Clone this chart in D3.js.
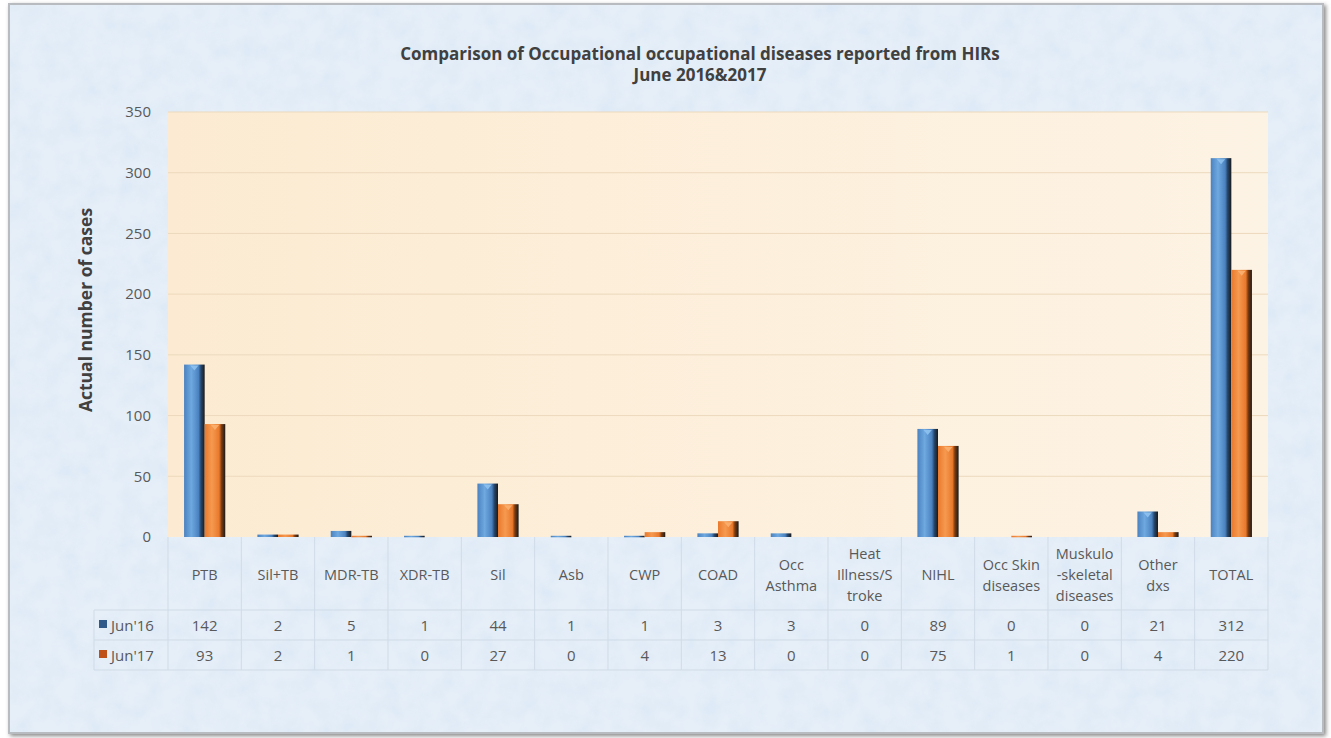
<!DOCTYPE html>
<html><head><meta charset="utf-8">
<script src="https://cdn.jsdelivr.net/npm/d3@7"></script>
<style>html,body{margin:0;padding:0;background:#fff;}svg{display:block;}</style>
</head><body>
<svg id="c" width="1331" height="738"></svg>
<script>
const categories = ["PTB","Sil+TB","MDR-TB","XDR-TB","Sil","Asb","CWP","COAD","Occ Asthma","Heat Illness/S troke","NIHL","Occ Skin diseases","Muskulo -skeletal diseases","Other dxs","TOTAL"];
const headerLines = [["PTB"],["Sil+TB"],["MDR-TB"],["XDR-TB"],["Sil"],["Asb"],["CWP"],["COAD"],["Occ","Asthma"],["Heat","Illness/S","troke"],["NIHL"],["Occ Skin","diseases"],["Muskulo","-skeletal","diseases"],["Other","dxs"],["TOTAL"]];
const seriesNames = ["Jun'16","Jun'17"];
const jun16 = [142,2,5,1,44,1,1,3,3,0,89,0,0,21,312];
const jun17 = [93,2,1,0,27,0,4,13,0,0,75,1,0,4,220];
const yTicks = [0,50,100,150,200,250,300,350];
const titleLines = ["Comparison of Occupational occupational diseases reported from HIRs","June 2016&2017"];
const yTitle = "Actual number of cases";

const svg = d3.select("#c");
const font = "'Open Sans', 'Noto Sans', sans-serif";
const defs = svg.append("defs");

// background texture
const filt = defs.append("filter").attr("id","tex").attr("x",0).attr("y",0).attr("width","100%").attr("height","100%");
filt.append("feTurbulence").attr("type","fractalNoise").attr("baseFrequency","0.05").attr("numOctaves",4).attr("seed",7).attr("result","n");
filt.append("feColorMatrix").attr("in","n").attr("type","matrix")
  .attr("values","0 0 0 0 0.70  0 0 0 0 0.80  0 0 0 0 0.92  0 0 0 1.3 -0.45");
filt.append("feComposite").attr("in2","SourceGraphic").attr("operator","in");

const sh = defs.append("filter").attr("id","shadow").attr("x","-2%").attr("y","-2%").attr("width","104%").attr("height","104%");
sh.append("feDropShadow").attr("dx",2).attr("dy",2).attr("stdDeviation",2).attr("flood-color","#555").attr("flood-opacity",0.7);

// frame
svg.append("rect").attr("x",9).attr("y",4).attr("width",1314).attr("height",729)
  .attr("fill","#e6eff8").attr("stroke","#b8bcc0").attr("stroke-width",2).attr("filter","url(#shadow)");
svg.append("rect").attr("x",10).attr("y",5).attr("width",1312).attr("height",727)
  .attr("fill","#e6eff8").attr("filter","url(#tex)");

// gradients for bars
function barGrad(id, light, mid, dark){
  const g = defs.append("linearGradient").attr("id",id).attr("x1","0%").attr("x2","100%");
  g.append("stop").attr("offset","0%").attr("stop-color",mid);
  g.append("stop").attr("offset","35%").attr("stop-color",light);
  g.append("stop").attr("offset","70%").attr("stop-color",mid);
  g.append("stop").attr("offset","82%").attr("stop-color",dark);
  g.append("stop").attr("offset","100%").attr("stop-color","#1a1a1a");
}
barGrad("gBlue","#6fa9e0","#4a82c0","#25466c");
barGrad("gOrange","#f59a50","#e9792c","#7a3a10");
const pg = defs.append("linearGradient").attr("id","gPlot").attr("x1","0%").attr("x2","100%");
pg.append("stop").attr("offset","0%").attr("stop-color","#fcebd2");
pg.append("stop").attr("offset","100%").attr("stop-color","#fdf3e4");

const L = 168, R = 1268, T = 112, B = 537;
const x0 = d3.scaleBand().domain(categories).range([L,R]).padding(0);
const x1 = d3.scaleBand().domain(seriesNames).range([0,x0.bandwidth()]).paddingInner(0).paddingOuter(0.78);
const y = d3.scaleLinear().domain([0,350]).range([B,T]);

// plot area
svg.append("rect").attr("x",L).attr("y",T).attr("width",R-L).attr("height",B-T).attr("fill","url(#gPlot)");
svg.append("g").selectAll("line").data(yTicks.filter(d=>d>0)).join("line")
  .attr("x1",L).attr("x2",R).attr("y1",d=>y(d)).attr("y2",d=>y(d))
  .attr("stroke","#ecd9bd").attr("stroke-width",1);

// y axis labels
const ya = svg.append("g").attr("transform",`translate(151,0)`)
  .call(d3.axisLeft(y).tickValues(yTicks).tickSize(0).tickPadding(0));
ya.select(".domain").remove();
ya.selectAll("text").attr("font-family",font).attr("font-size",15).attr("fill","#595959");

// title
svg.append("text").attr("x",700).attr("y",60).attr("text-anchor","middle")
  .attr("font-family",font).attr("font-weight","bold").attr("font-size",17).attr("fill","#404040")
  .selectAll("tspan").data(titleLines).join("tspan").attr("x",700).attr("dy",(d,i)=>i?21:0).text(d=>d);

svg.append("text").attr("transform","translate(92,310) rotate(-90)").attr("text-anchor","middle")
  .attr("font-family",font).attr("font-weight","bold").attr("font-size",17.5).attr("fill","#404040").text(yTitle);

// bars
const series = [{name:seriesNames[0], vals:jun16, fill:"url(#gBlue)", cap:"#8fc2f0"},
                {name:seriesNames[1], vals:jun17, fill:"url(#gOrange)", cap:"#fbb070"}];
const gb = svg.append("g");
series.forEach(s=>{
  const data = categories.map((c,i)=>({c, v:s.vals[i]})).filter(d=>d.v>0);
  gb.append("g").selectAll("rect").data(data).join("rect")
    .attr("x",d=>x0(d.c)+x1(s.name)).attr("width",x1.bandwidth())
    .attr("y",d=>y(d.v)).attr("height",d=>Math.max(1.5,B-y(d.v)))
    .attr("fill",s.fill);
  gb.append("g").selectAll("path").data(data.filter(d=>B-y(d.v)>8)).join("path")
    .attr("d",d=>{const xx=x0(d.c)+x1(s.name), w=x1.bandwidth(), yy=y(d.v);
      return `M${xx+w*0.3},${yy+1}L${xx+w*0.7},${yy+1}L${xx+w*0.5},${yy+6}Z`;})
    .attr("fill",s.cap).attr("opacity",0.9);
});

// table
const tLeft = 94;
const tg = svg.append("g").attr("stroke","#cfdbe7").attr("stroke-width",1);
[610,640,670].forEach(v=>tg.append("line").attr("x1",tLeft).attr("x2",R).attr("y1",v).attr("y2",v));
tg.append("line").attr("x1",tLeft).attr("x2",tLeft).attr("y1",610).attr("y2",670);
tg.selectAll("line.v").data(categories.map(c=>x0(c)).concat([R])).join("line").attr("class","v")
  .attr("x1",d=>d).attr("x2",d=>d).attr("y1",B).attr("y2",670);

// headers
categories.forEach((c,i)=>{
  const lines = headerLines[i];
  const cx = x0(c)+x0.bandwidth()/2;
  const lh = 21;
  const y0 = 580 - (lines.length-1)*lh/2;
  const t = svg.append("text").attr("text-anchor","middle").attr("font-family",font).attr("font-size",14.5).attr("fill","#595959");
  lines.forEach((ln,j)=>t.append("tspan").attr("x",cx).attr("y",y0+j*lh).text(ln));
});
// values
series.forEach((s,si)=>{
  const ry = 631 + si*30;
  svg.append("g").selectAll("text").data(categories).join("text")
    .attr("x",d=>x0(d)+x0.bandwidth()/2).attr("y",ry).attr("text-anchor","middle")
    .attr("font-family",font).attr("font-size",15).attr("fill","#595959")
    .text((d,i)=>s.vals[i]);
  svg.append("rect").attr("x",99).attr("y",ry-11).attr("width",8).attr("height",8)
    .attr("fill",si?"#c0501a":"#2f5a8a");
  svg.append("text").attr("x",111).attr("y",ry).attr("font-family",font).attr("font-size",15).attr("fill","#595959").text(s.name);
});
</script>
</body></html>
